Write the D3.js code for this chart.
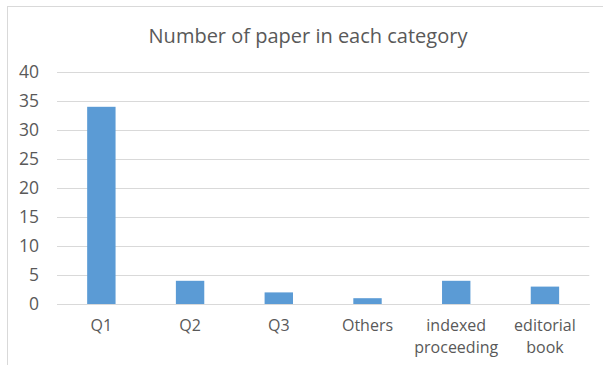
<!DOCTYPE html>
<html>
<head>
<meta charset="utf-8">
<script src="https://cdn.jsdelivr.net/npm/d3@7"></script>
<style>
  html, body { margin: 0; padding: 0; background: #fff; }
  svg { display: block; }
</style>
</head>
<body>
<svg id="chart" width="603" height="365"></svg>
<script>
// Paper counts by publication category
const categories = ["Q1", "Q2", "Q3", "Others", "indexed proceeding", "editorial book"];
const paperCounts = [34, 4, 2, 1, 4, 3];
const yTicks = [0, 5, 10, 15, 20, 25, 30, 35, 40];
const chartTitle = "Number of paper in each category";

const FONT = "'Open Sans', 'Noto Sans', sans-serif";
const TEXT_COLOR = "#595959";
const GRID_COLOR = "#d9d9d9";

const svg = d3.select("#chart");
const W = 603, H = 365;
const plot = { left: 57, right: 589.3, top: 72, bottom: 304 };

// chart frame
svg.append("rect")
  .attr("x", 7.5).attr("y", 6.5)
  .attr("width", W + 20).attr("height", H + 20)
  .attr("fill", "#fff").attr("stroke", GRID_COLOR).attr("stroke-width", 1);

const x = d3.scaleBand()
  .domain(categories)
  .range([plot.left, plot.right])
  .paddingInner(0.68)
  .paddingOuter(0.34);

const y = d3.scaleLinear()
  .domain([0, 40])
  .range([plot.bottom, plot.top]);

// gridlines + y labels
const yAxis = d3.axisLeft(y)
  .tickValues(yTicks)
  .tickSize(-(plot.right - plot.left))
  .tickPadding(18)
  .tickFormat(d3.format("d"));

const gy = svg.append("g")
  .attr("transform", `translate(${plot.left},0)`)
  .call(yAxis)
  .attr("font-family", FONT)
  .attr("font-size", 17.5);
gy.select(".domain").remove();
gy.selectAll(".tick line")
  .attr("stroke", GRID_COLOR).attr("stroke-width", 1);
gy.selectAll(".tick text")
  .attr("fill", TEXT_COLOR);

// bars
svg.append("g")
  .selectAll("rect")
  .data(categories.map((c, i) => ({ c, v: paperCounts[i] })))
  .join("rect")
  .attr("x", d => x(d.c))
  .attr("y", d => y(d.v))
  .attr("width", x.bandwidth())
  .attr("height", d => y(0) - y(d.v))
  .attr("fill", "#5b9bd5");

// category axis (baseline + wrapped labels)
const xAxis = d3.axisBottom(x).tickSize(0).tickPadding(0);
const gx = svg.append("g")
  .attr("transform", `translate(0,${plot.bottom})`)
  .call(xAxis)
  .attr("font-family", FONT)
  .attr("font-size", 16);
gx.select(".domain")
  .attr("stroke", GRID_COLOR).attr("stroke-width", 1);
gx.selectAll(".tick text").each(function (d) {
  const t = d3.select(this);
  t.text(null)
    .attr("y", 0).attr("dy", null)
    .attr("fill", TEXT_COLOR);
  d.split(" ").forEach((word, i) => {
    t.append("tspan")
      .attr("x", 0)
      .attr("y", 26.8 + i * 22.3)
      .text(word);
  });
});

// title
svg.append("text")
  .attr("x", 308)
  .attr("y", 43.3)
  .attr("text-anchor", "middle")
  .attr("font-family", FONT)
  .attr("fill", TEXT_COLOR)
  .attr("font-size", 20)
  .text(chartTitle);
</script>
</body>
</html>
